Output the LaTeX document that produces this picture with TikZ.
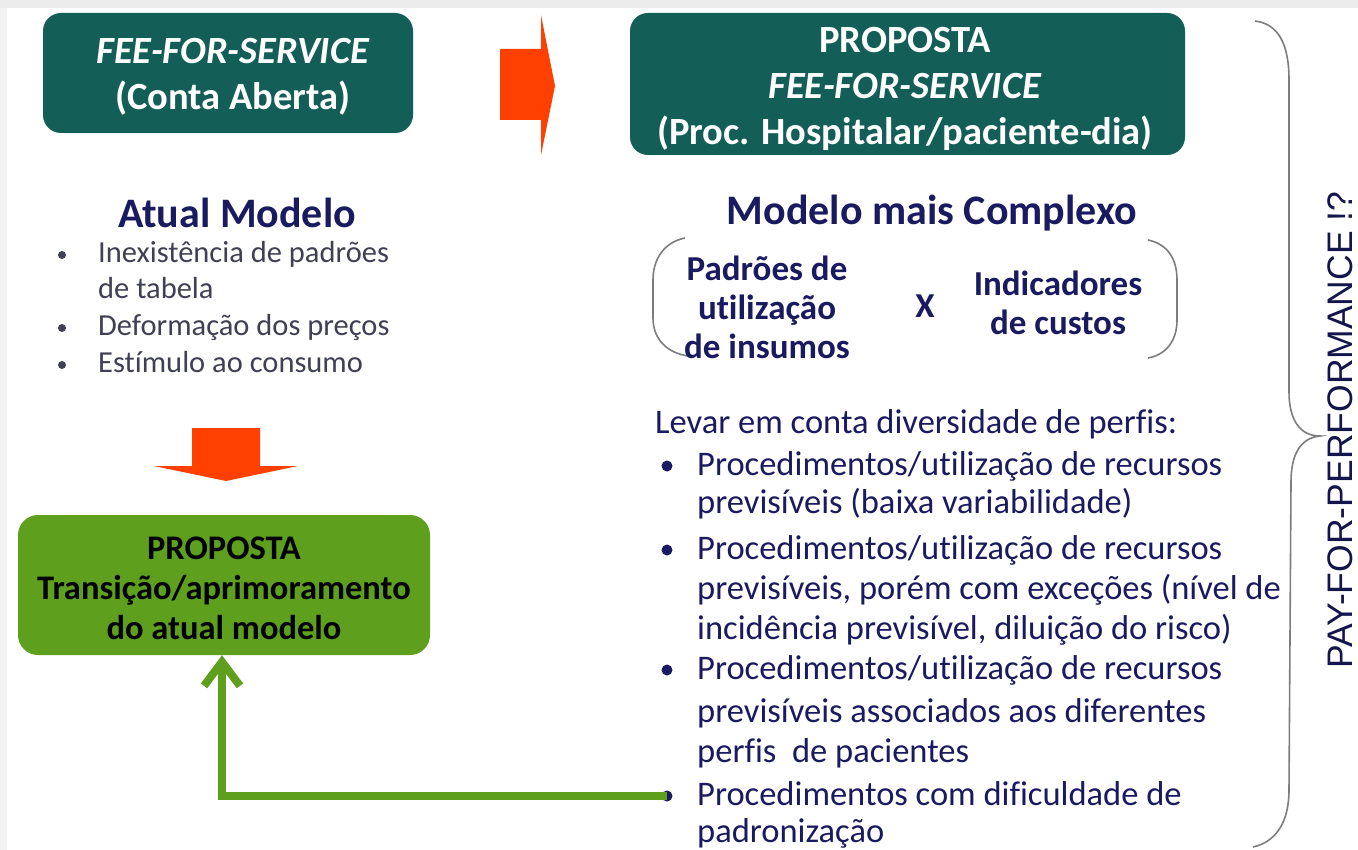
\documentclass[tikz,border=0pt]{standalone}
\usepackage{fontspec}
\setmainfont{Carlito}[Ligatures=NoCommon]
\newfontfamily\arialf{Liberation Sans}
\usetikzlibrary{arrows.meta}
\definecolor{tealbg}{RGB}{20,94,88}
\definecolor{grn}{RGB}{94,160,30}
\definecolor{navy}{RGB}{26,26,96}
\definecolor{slate}{RGB}{64,64,84}
\definecolor{redarr}{RGB}{255,64,0}
\definecolor{bracegray}{RGB}{125,125,125}
\definecolor{stripgray}{RGB}{236,236,236}
\tikzset{
  tealbox/.style={fill=tealbg, rounded corners=18pt, inner sep=0pt},
  greenbox/.style={fill=grn, rounded corners=20pt, inner sep=0pt},
  boxtext/.style={text=white, inner sep=0pt, align=center, font=\bfseries\fontsize{38.5}{46}\selectfont},
  greentext/.style={text=black, inner sep=0pt, align=center, font=\bfseries\fontsize{34.5}{40}\selectfont},
  heading/.style={text=navy, inner sep=0pt, font=\bfseries\fontsize{42}{48}\selectfont},
  leftitem/.style={anchor=base west, text=slate, inner sep=0pt, font=\fontsize{30.5}{36}\selectfont},
  rightitem/.style={anchor=base west, text=navy, inner sep=0pt, font=\fontsize{34.5}{40}\selectfont},
  parentext/.style={text=navy, inner sep=0pt, align=center, font=\bfseries\fontsize{35}{39}\selectfont},
  ldot/.style={circle, fill=slate, inner sep=0pt, minimum size=8pt},
  rdot/.style={circle, fill=navy, inner sep=0pt, minimum size=11pt},
  redarrow/.style={fill=redarr},
  bracket/.style={draw=bracegray, line width=1.6pt},
  feedback/.style={draw=grn, line width=8pt, -{Straight Barb[length=24pt,width=36pt]}}
}
\begin{document}
\begin{tikzpicture}[x=1pt,y=-1pt]
\useasboundingbox (0,0) rectangle (1358,850);
\fill[white] (0,0) rectangle (1358,850);
\fill[stripgray] (0,0) rectangle (1358,8);
\fill[stripgray!70] (0,8) rectangle (7,850);

% boxes
\node[tealbox, minimum width=370pt, minimum height=120pt] (ffs) at (228,73) {};
\node[boxtext] (ffst) at (233,77) {\textit{FEE-FOR-SERVICE}\\(Conta Aberta)};
\node[tealbox, minimum width=555pt, minimum height=142pt] (prop) at (907.5,84) {};
\node[boxtext] (propt) at (905,89) {PROPOSTA\\\textit{FEE-FOR-SERVICE}\\(Proc. Hospitalar/paciente-dia)};
\node[greenbox, minimum width=412pt, minimum height=140pt] (gbox) at (224,585) {};
\node[greentext] (gboxt) at (224,588) {PROPOSTA\\Transição/aprimoramento\\do atual modelo};

% red arrows
\fill[redarrow] (500,49) -- (541,49) -- (541,15) -- (555,86) -- (541,155) -- (541,120) -- (500,120) -- cycle;
\fill[redarrow] (192,428) -- (260,428) -- (260,466) -- (298,466) -- (226,481) -- (154,466) -- (192,466) -- cycle;

% headings
\node[heading] (atual) at (237,213) {Atual Modelo};
\node[heading] (complexo) at (932,213) {Modelo mais Complexo};

% left bullets
\node[ldot] (ld1) at (62,255) {};
\node[leftitem] (l1a) at (98,263) {Inexistência de padrões};
\node[leftitem] (l1b) at (98,299) {de tabela};
\node[ldot] (ld2) at (62,328) {};
\node[leftitem] (l2) at (98,336) {Deformação dos preços};
\node[ldot] (ld3) at (62,365) {};
\node[leftitem] (l3) at (98,373) {Estímulo ao consumo};

% parenthesis group
\draw[bracket] (685,238) .. controls (665,242) and (653,258) .. (653,280) -- (653,318) .. controls (653,340) and (668,353) .. (688,356);
\draw[bracket] (1148,240) .. controls (1167,244) and (1177,258) .. (1177,280) -- (1177,320) .. controls (1177,342) and (1165,355) .. (1148,358);
\node[parentext] (pu) at (767,307) {Padrões de\\utilização\\de insumos};
\node[parentext] (xx) at (925,306) {X};
\node[parentext] (ic) at (1058,303) {Indicadores\\de custos};

% right list
\node[rightitem] (levar) at (655,433) {Levar em conta diversidade de perfis:};
\node[rdot] (rd1) at (667,466) {};
\node[rightitem] (r1a) at (697,475) {Procedimentos/utilização de recursos};
\node[rightitem] (r1b) at (697,513) {previsíveis (baixa variabilidade)};
\node[rdot] (rd2) at (667,550) {};
\node[rightitem] (r2a) at (697,559) {Procedimentos/utilização de recursos};
\node[rightitem] (r2b) at (697,599) {previsíveis, porém com exceções (nível de};
\node[rightitem] (r2c) at (697,639) {incidência previsível, diluição do risco)};
\node[rdot] (rd3) at (667,670) {};
\node[rightitem] (r3a) at (697,679) {Procedimentos/utilização de recursos};
\node[rightitem] (r3b) at (697,722) {previsíveis associados aos diferentes};
\node[rightitem] (r3c) at (697,762) {perfis\ \ de pacientes};
\node[rdot] (rd4) at (667,796) {};
\node[rightitem] (r4a) at (697,805) {Procedimentos com dificuldade de};
\node[rightitem] (r4b) at (697,842) {padronização};

% feedback arrow
\draw[feedback] (rd4.center) -| ([xshift=-2pt]gbox.south);

% brace
\draw[bracket] (1255,21) .. controls (1279,24) and (1289,45) .. (1289,80) -- (1289,392) .. controls (1289,420) and (1300,436) .. (1320,436) .. controls (1300,438) and (1291,455) .. (1291,482) -- (1289,790) .. controls (1289,822) and (1276,842) .. (1253,847);
\node[rotate=90, text=navy!80!black, inner sep=0pt, font=\arialf\fontsize{35.5}{40}\selectfont] (pay) at (1340,430) {PAY-FOR-PERFORMANCE !?};
\end{tikzpicture}
\end{document}
